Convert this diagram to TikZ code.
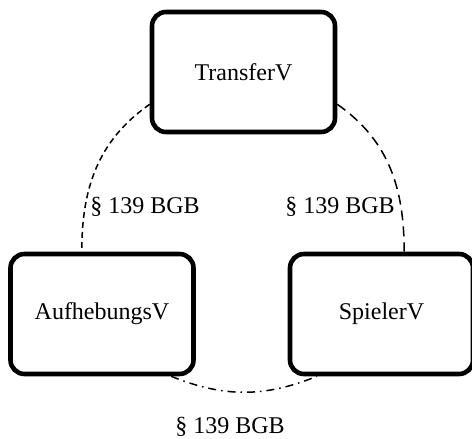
\documentclass[tikz,border=0pt]{standalone}
\usepackage{fontspec}
\setmainfont{Liberation Serif}
\tikzset{>=stealth}
\usetikzlibrary{positioning}
\colorlet{penColor}{black}
\tikzset{vertrag/.style={draw=penColor, line width=2.3pt, rounded corners=7pt,
    minimum width=91.5pt, minimum height=60pt, font=\fontsize{12}{14}\selectfont}}
\tikzset{norm/.style={font=\fontsize{12}{14}\selectfont, anchor=base}}

\begin{document}
\begin{tikzpicture}[x=0.5pt,y=-0.5pt]
				\useasboundingbox (0,0) rectangle (472,439);
				\node [vertrag] (T) at (243.5,72) {TransferV};
				\node [vertrag] (A) at (102,314) {AufhebungsV};
				\node [vertrag] (S) at (381.5,314) {SpielerV};
				
				\draw [line width=0.75pt,dash pattern=on 3pt off 2pt] (T.199) to[out=215,in=90] (A.108);
				\draw [line width=0.75pt,dash pattern=on 5pt off 3pt] (T.-19) to[out=-35,in=90] (S.70);
				\draw [line width=0.75pt,dash pattern=on 4pt off 2.5pt on 0.75pt off 2.5pt] (A.-42) to[out=-22,in=202] (S.-136);
				
				%\node labels
				\node [norm] (l1) at (145,213) {\S\ 139 BGB};
				\node [norm] (l2) at (340,213) {\S\ 139 BGB};
				\node [norm] (l3) at (230,433) {\S\ 139 BGB};
				\end{tikzpicture}
\end{document}
